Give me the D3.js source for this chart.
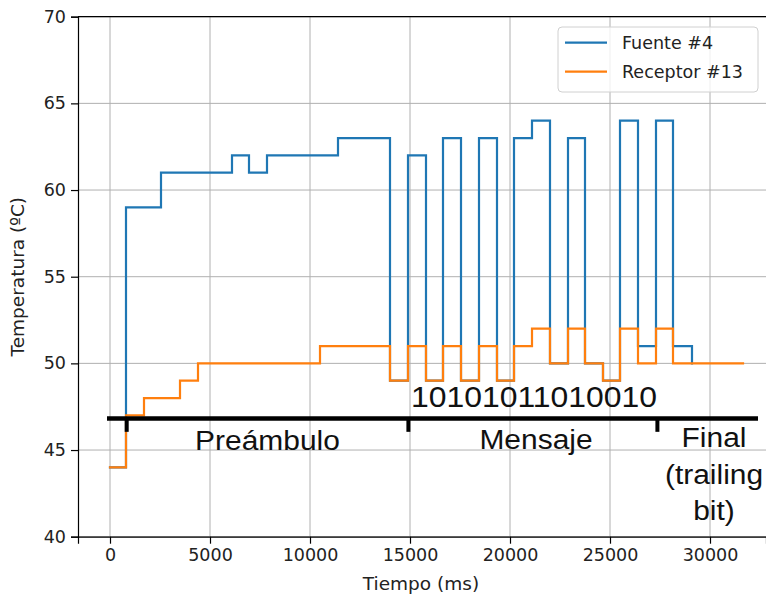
<!DOCTYPE html>
<html>
<head>
<meta charset="utf-8">
<script src="https://cdn.jsdelivr.net/npm/d3@7"></script>
<style>
  html, body { margin: 0; padding: 0; background: #fff; }
  svg { display: block; }
  text { font-family: "DejaVu Sans", sans-serif; }
</style>
</head>
<body>
<div id="chart"></div>
<script>
// ---- data ----
const timeFuente = [0, 800, 2550, 6100, 6950, 7850, 11400, 14000, 14900, 15800, 16650, 17550, 18450, 19350, 20200, 21100, 22000, 22900, 23750, 24650, 25500, 26400, 27300, 28150, 29100];
const tempFuente = [44, 59, 61, 62, 61, 62, 63, 49, 62, 49, 63, 49, 63, 49, 63, 64, 50, 63, 50, 49, 64, 51, 64, 51, 50];

const timeReceptor = [0, 800, 1700, 3500, 4400, 10500, 14000, 14900, 15800, 16650, 17550, 18450, 19350, 20200, 21100, 22000, 22900, 23750, 24650, 25500, 26400, 27300, 28150, 31650];
const tempReceptor = [44, 47, 48, 49, 50, 51, 49, 51, 49, 51, 49, 51, 49, 51, 52, 50, 52, 50, 49, 52, 50, 52, 50, 50];

const seriesNames = ["Fuente #4", "Receptor #13"];
const xTicks = [0, 5000, 10000, 15000, 20000, 25000, 30000];
const yTicks = [40, 45, 50, 55, 60, 65, 70];

// annotation (phase bar)
const barStart = -150, barEnd = 32400, barLevel = 46.82, barTickBottom = 46.05;
const phaseBounds = [835, 14920, 27370];
const bitsText = "10101011010010";
const bitsPos = [21200, 47.5];
const phaseLabels = [
  { lines: ["Preámbulo"], x: 7875, y: [45.0] },
  { lines: ["Mensaje"], x: 21300, y: [45.05] },
  { lines: ["Final", "(trailing", "bit)"], x: 30200, y: [45.16, 43.05, 40.96] }
];

// ---- layout ----
const W = 766, H = 595;
const svg = d3.select("#chart").append("svg").attr("width", W).attr("height", H);

const x = d3.scaleLinear().domain([-1600, 32800]).range([78, 766]);
const y = d3.scaleLinear().domain([40, 70]).range([536.7, 16.7]);

const colors = ["#1f77b4", "#ff7f0e"];

// grid
const g = svg.append("g");
g.selectAll(".vg").data(xTicks).enter().append("line")
  .attr("x1", d => x(d)).attr("x2", d => x(d))
  .attr("y1", y(40)).attr("y2", y(70))
  .attr("stroke", "#b0b0b0").attr("stroke-width", 1);
g.selectAll(".hg").data(yTicks).enter().append("line")
  .attr("x1", x.range()[0]).attr("x2", x.range()[1])
  .attr("y1", d => y(d)).attr("y2", d => y(d))
  .attr("stroke", "#b0b0b0").attr("stroke-width", 1);

// lines
const lineGen = d3.line().curve(d3.curveStepAfter).x(d => x(d[0])).y(d => y(d[1]));
const fuente = timeFuente.map((t, i) => [t, tempFuente[i]]);
const receptor = timeReceptor.map((t, i) => [t, tempReceptor[i]]);
[fuente, receptor].forEach((data, i) => {
  svg.append("path").datum(data)
    .attr("d", lineGen)
    .attr("fill", "none")
    .attr("stroke", colors[i])
    .attr("stroke-width", 2.2)
    .attr("stroke-linecap", "square");
});

// phase bar
svg.append("line")
  .attr("x1", x(barStart)).attr("x2", x(barEnd))
  .attr("y1", y(barLevel)).attr("y2", y(barLevel))
  .attr("stroke", "#000").attr("stroke-width", 4.5);
svg.selectAll(".pt").data(phaseBounds).enter().append("line")
  .attr("x1", d => x(d)).attr("x2", d => x(d))
  .attr("y1", y(barLevel)).attr("y2", y(barTickBottom))
  .attr("stroke", "#000").attr("stroke-width", 4);

// bits text
svg.append("text")
  .attr("transform", `translate(${x(bitsPos[0])},${y(bitsPos[1])}) scale(1.1,1)`)
  .attr("text-anchor", "middle")
  .style("font-family", "'Liberation Sans', Arial, sans-serif")
  .style("font-size", "29px")
  .attr("fill", "#111")
  .text(bitsText);

phaseLabels.forEach(p => {
  p.lines.forEach((ln, i) => {
    svg.append("text")
      .attr("transform", `translate(${x(p.x)},${y(p.y[i])}) scale(1.07,1)`)
      .attr("text-anchor", "middle")
      .style("font-family", "'Liberation Sans', Arial, sans-serif")
      .style("font-size", "28px")
      .attr("fill", "#111")
      .text(ln);
  });
});

// axes
const xAxis = d3.axisBottom(x).tickValues(xTicks).tickSize(7).tickPadding(5).tickFormat(d3.format("d"));
const yAxis = d3.axisLeft(y).tickValues(yTicks).tickSize(7).tickPadding(5).tickFormat(d3.format("d"));
const gx = svg.append("g").attr("transform", `translate(0,${y(40)})`).call(xAxis);
const gy = svg.append("g").attr("transform", `translate(${x.range()[0]},0)`).call(yAxis);
[gx, gy].forEach(a => {
  a.select(".domain").attr("stroke", "#000").attr("stroke-width", 1.2);
  a.selectAll(".tick line").attr("stroke", "#000").attr("stroke-width", 1.2);
  a.selectAll(".tick text").attr("fill", "#222").style("font-size", "17.5px").style("font-family", "'DejaVu Sans', sans-serif");
});
// top spine
svg.append("line").attr("x1", x.range()[0]).attr("x2", x.range()[1]).attr("y1", y(70)).attr("y2", y(70))
  .attr("stroke", "#000").attr("stroke-width", 1.2);

// axis labels
svg.append("text").attr("x", 421).attr("y", 590).attr("text-anchor", "middle")
  .style("font-size", "18.5px").attr("fill", "#222").text("Tiempo (ms)");
svg.append("text").attr("transform", `translate(24,${(y(40) + y(70)) / 2}) rotate(-90)`)
  .attr("text-anchor", "middle").style("font-size", "18.5px").attr("fill", "#222").text("Temperatura (ºC)");

// legend
const lg = svg.append("g");
lg.append("rect").attr("x", 558).attr("y", 27).attr("width", 200).attr("height", 65)
  .attr("rx", 4).attr("fill", "#fff").attr("fill-opacity", 0.8).attr("stroke", "#d0d0d0");
seriesNames.forEach((name, i) => {
  const ly = 42.7 + i * 29;
  lg.append("line").attr("x1", 565).attr("x2", 607).attr("y1", ly).attr("y2", ly)
    .attr("stroke", colors[i]).attr("stroke-width", 2.2);
  lg.append("text").attr("x", 622).attr("y", ly + 6.5).style("font-size", "17.5px").attr("fill", "#222").text(name);
});
</script>
</body>
</html>
